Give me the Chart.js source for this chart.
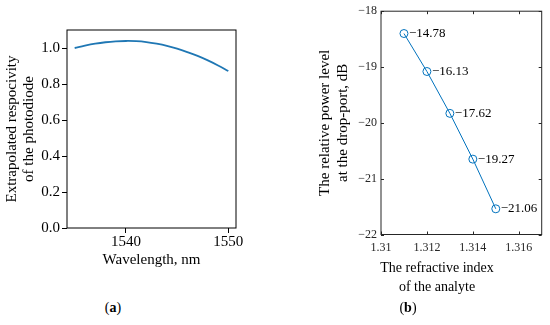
<!DOCTYPE html>
<html>
<head>
<meta charset="utf-8">
<script src="https://cdn.jsdelivr.net/npm/chart.js@4.4.1/dist/chart.umd.min.js"></script>
<style>
  html, body { margin: 0; padding: 0; background: #fff; }
  body { width: 550px; height: 325px; position: relative; overflow: hidden; font-family: 'Liberation Serif', 'Times New Roman', serif; }
  canvas { position: absolute; top: 0; }
  #chartA { left: 0; }
  #chartB { left: 280px; }
  .txt { position: absolute; color: #000; text-align: center; white-space: nowrap; }
</style>
</head>
<body>
<canvas id="chartA" width="280" height="290"></canvas>
<canvas id="chartB" width="270" height="300"></canvas>
<div class="txt" style="left:377px;top:258px;width:120px;font-size:14px;line-height:19px;">The refractive index<br>of the analyte</div>
<div class="txt" style="left:93px;top:299px;width:40px;font-size:14px;line-height:18px;">(<b>a</b>)</div>
<div class="txt" style="left:388px;top:299px;width:40px;font-size:14px;line-height:18px;">(<b>b</b>)</div>
<script>
const SERIF = "'Liberation Serif', 'Times New Roman', serif";

// (a) respocivity vs wavelength
const wavelengthNm = [1535, 1536, 1537, 1538, 1539, 1540, 1541, 1542, 1543, 1544, 1545, 1546, 1547, 1548, 1549, 1550];
const respocivity = [1.000, 1.013, 1.024, 1.032, 1.037, 1.039, 1.038, 1.033, 1.024, 1.012, 0.996, 0.977, 0.956, 0.931, 0.903, 0.872];
const wavelengthTicks = [1540, 1550];
const respTicks = [0, 0.2, 0.4, 0.6, 0.8, 1.0];

// (b) drop-port level vs refractive index
const refIndex = [1.311, 1.312, 1.313, 1.314, 1.315];
const dropPortDb = [-18.40, -19.08, -19.83, -20.65, -21.54];
const dropPortLabels = ['\u221214.78', '\u221216.13', '\u221217.62', '\u221219.27', '\u221221.06'];
const refIndexTicks = [1.31, 1.312, 1.314, 1.316];
const dropPortTicks = [-22, -21, -20, -19, -18];

Chart.defaults.font.family = SERIF;
Chart.defaults.color = '#000';

const setTicks = list => scale => { scale.ticks = list.map(v => ({ value: v })); };
const fixWidth = w => scale => { scale.width = w; };
const fixHeight = h => scale => { scale.height = h; };

// box around the plot area
const framePlugin = {
    id: 'frame',
    afterDraw(chart, args, opts) {
        const { ctx, chartArea: a } = chart;
        ctx.save();
        ctx.strokeStyle = opts.color;
        ctx.lineWidth = opts.width;
        ctx.strokeRect(a.left, a.top, a.right - a.left, a.bottom - a.top);
        ctx.restore();
    }
};

// MATLAB style ticks pointing into the axes, on all four sides
const innerTicks = {
    id: 'innerTicks',
    afterDraw(chart, args, opts) {
        const { ctx, chartArea: a, scales: { x, y } } = chart;
        const len = opts.length;
        ctx.save();
        ctx.strokeStyle = opts.color;
        ctx.lineWidth = 1;
        ctx.beginPath();
        x.ticks.forEach(t => {
            const px = Math.round(x.getPixelForValue(t.value)) + 0.5;
            ctx.moveTo(px, a.bottom); ctx.lineTo(px, a.bottom - len);
            ctx.moveTo(px, a.top); ctx.lineTo(px, a.top + len);
        });
        y.ticks.forEach(t => {
            const py = Math.round(y.getPixelForValue(t.value)) + 0.5;
            ctx.moveTo(a.left, py); ctx.lineTo(a.left + len, py);
            ctx.moveTo(a.right, py); ctx.lineTo(a.right - len, py);
        });
        ctx.stroke();
        ctx.restore();
    }
};

// text next to each marker
const pointText = {
    id: 'pointText',
    afterDatasetsDraw(chart, args, opts) {
        const { ctx } = chart;
        const meta = chart.getDatasetMeta(0);
        ctx.save();
        ctx.font = opts.font;
        ctx.fillStyle = opts.color;
        ctx.textAlign = 'left';
        ctx.textBaseline = 'middle';
        meta.data.forEach((el, i) => ctx.fillText(opts.labels[i], el.x + opts.dx, el.y));
        ctx.restore();
    }
};

new Chart(document.getElementById('chartA'), {
    type: 'line',
    data: {
        datasets: [{
            data: wavelengthNm.map((w, i) => ({ x: w, y: respocivity[i] })),
            borderColor: '#1f77b4',
            borderWidth: 1.8,
            pointRadius: 0,
            tension: 0.4
        }]
    },
    plugins: [framePlugin],
    options: {
        responsive: false,
        animation: false,
        layout: { padding: { top: 30, right: 44, left: 0, bottom: 17 } },
        plugins: {
            legend: { display: false },
            tooltip: { enabled: false },
            frame: { color: '#000', width: 1 }
        },
        scales: {
            x: {
                type: 'linear', min: 1534.25, max: 1550.75,
                afterBuildTicks: setTicks(wavelengthTicks),
                afterFit: fixHeight(45),
                grid: { display: true, drawOnChartArea: false, drawTicks: true, tickLength: 5, tickColor: '#000', lineWidth: 1 },
                border: { display: false },
                ticks: { font: { size: 15 }, color: '#000', padding: 0, maxRotation: 0, callback: v => String(v) },
                title: { display: true, text: 'Wavelength, nm', font: { size: 15, lineHeight: 1.2 }, color: '#000', padding: { top: 0, bottom: 4 } }
            },
            y: {
                type: 'linear', min: 0, max: 1.1,
                afterBuildTicks: setTicks(respTicks),
                afterFit: fixWidth(67),
                grid: { display: true, drawOnChartArea: false, drawTicks: true, tickLength: 5, tickColor: '#000', lineWidth: 1 },
                border: { display: false },
                ticks: { font: { size: 15 }, color: '#000', padding: 2, callback: v => v.toFixed(1) },
                title: { display: true, text: ['Extrapolated respocivity', 'of the photodiode'], font: { size: 15, lineHeight: 1.15 }, color: '#000', padding: { top: 3.4, bottom: 0 } }
            }
        }
    }
});

new Chart(document.getElementById('chartB'), {
    type: 'line',
    data: {
        datasets: [{
            data: refIndex.map((n, i) => ({ x: n, y: dropPortDb[i] })),
            borderColor: '#0072bd',
            borderWidth: 1,
            pointStyle: 'circle',
            pointRadius: 4,
            pointBorderWidth: 1,
            pointBorderColor: '#0072bd',
            pointBackgroundColor: 'rgba(0,0,0,0)',
            tension: 0
        }]
    },
    plugins: [framePlugin, innerTicks, pointText],
    options: {
        responsive: false,
        animation: false,
        layout: { padding: { top: 11, right: 8.3, left: 0, bottom: 35.5 } },
        plugins: {
            legend: { display: false },
            tooltip: { enabled: false },
            frame: { color: '#262626', width: 1 },
            innerTicks: { color: '#262626', length: 3 },
            pointText: { labels: dropPortLabels, dx: 5, font: '13px ' + SERIF, color: '#000' }
        },
        scales: {
            x: {
                type: 'linear', min: 1.31, max: 1.317,
                afterBuildTicks: setTicks(refIndexTicks),
                afterFit: fixHeight(30),
                grid: { display: false, drawTicks: false },
                border: { display: false },
                ticks: { font: { size: 12 }, color: '#262626', padding: 6, maxRotation: 0, callback: v => String(v) }
            },
            y: {
                type: 'linear', min: -22, max: -18,
                afterBuildTicks: setTicks(dropPortTicks),
                afterFit: fixWidth(101),
                grid: { display: false, drawTicks: false },
                border: { display: false },
                ticks: { font: { size: 12 }, color: '#262626', padding: 4, callback: v => '\u2212' + Math.abs(v) },
                title: { display: true, text: ['The relative power level', 'at the drop-port, dB'], font: { size: 15, lineHeight: 1.2 }, color: '#000', padding: { top: 36, bottom: 0 } }
            }
        }
    }
});
</script>
</body>
</html>
